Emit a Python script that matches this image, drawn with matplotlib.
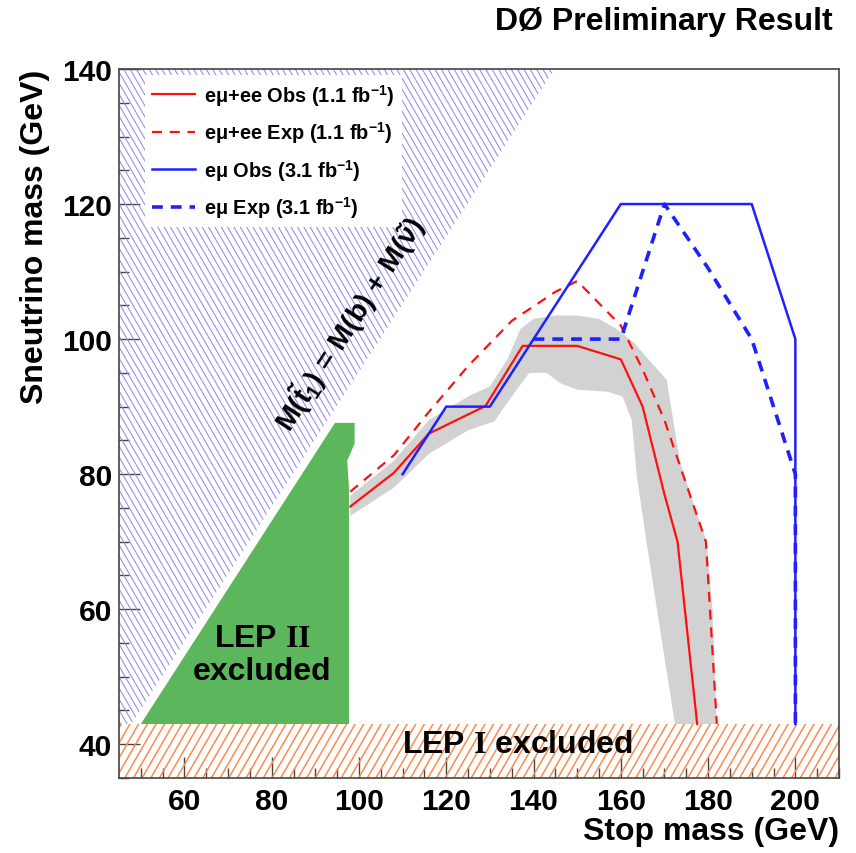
import matplotlib
matplotlib.use('Agg')
import matplotlib.pyplot as plt
import numpy as np
from matplotlib.patches import Polygon
from matplotlib.collections import LineCollection
from matplotlib.transforms import IdentityTransform
from matplotlib.lines import Line2D

plt.rcParams['font.family'] = ['Liberation Sans', 'DejaVu Sans']
plt.rcParams['font.weight'] = 'bold'
plt.rcParams['mathtext.fontset'] = 'custom'
plt.rcParams['mathtext.rm'] = 'Liberation Sans:bold'
plt.rcParams['mathtext.it'] = 'Liberation Sans:bold:italic'
plt.rcParams['mathtext.bf'] = 'Liberation Sans:bold'
plt.rcParams['mathtext.sf'] = 'Liberation Serif:bold'   # used for the roman numerals
plt.rcParams['mathtext.default'] = 'rm'

# ---- data (GeV) ----
# observed / expected limits
red_obs_x = [98, 108, 116, 129, 137.5, 150, 160, 165, 170, 173, 177.5]
red_obs_y = [75.2, 80.2, 86, 90.1, 99, 99, 97, 90, 77, 70, 43]
red_exp_x = [98, 108, 116, 125, 135, 145, 150, 160, 165, 170, 175, 179.5, 182]
red_exp_y = [77.4, 82.8, 89.2, 96, 102.7, 107, 108.6, 102, 95.5, 88, 78.5, 70, 43]
blue_obs_x = [110, 120, 130, 160, 190, 200, 200]
blue_obs_y = [80, 90, 90, 120, 120, 100, 43]
blue_exp_x = [140, 160, 170, 180, 190, 200, 200]
blue_exp_y = [100, 100, 120, 110.5, 100, 80, 43]

# +-1 sigma band around the e-mu+ee observed limit (polygon outline)
band_x = [98, 108, 116, 125, 130, 134, 137, 140, 145, 150, 155, 159, 163, 167, 170.5,
          173.5, 176.5, 179.7, 181, 182,
          172.4, 169, 166, 163.7, 162.5, 160.4, 157, 150, 146, 143, 139, 135, 131,
          125, 116, 108, 98]
band_y = [76.8, 82, 88, 91.5, 93, 97, 101.5, 103, 103.5, 103.5, 103, 101.5, 99.5, 96.5, 94,
          82, 76, 70, 60, 43,
          43, 57, 69.5, 79.5, 88, 91.5, 92.2, 92.5, 93.5, 95, 95, 91.5, 87.8,
          86.5, 83, 78, 73.8]

# LEP II excluded region
lep2_x = [50, 94.5, 99, 99, 97.3, 97.7, 97.7]
lep2_y = [43, 87.6, 87.6, 84.5, 82, 78, 43]
# LEP I excluded: sneutrino mass below this value
lep1_max = 43
# kinematic limit M(t1) = M(b) + M(nu)
mb = 4.8

xmin, xmax = 45, 210
ymin, ymax = 35, 140

fig = plt.figure(figsize=(8.56, 8.54), dpi=100)
ax = fig.add_axes([119/856, 1 - 779/854, 720/856, 709/854])
ax.set_xlim(xmin, xmax)
ax.set_ylim(ymin, ymax)


def hatch(ax, xs, ys, color, angle, step, lw):
    # diagonal line hatching drawn in pixel space, clipped to a data polygon
    clip = Polygon(np.column_stack([xs, ys]), closed=True, fc='none', ec='none',
                   transform=ax.transData)
    ax.add_patch(clip)
    x0, y0, x1, y1 = ax.bbox.extents
    a = np.deg2rad(angle)
    d = np.array([np.cos(a), np.sin(a)])
    n = np.array([-d[1], d[0]])
    c = np.array([(x0 + x1) / 2, (y0 + y1) / 2])
    r = np.hypot(x1 - x0, y1 - y0)
    segs = [[c + o * n - r * d, c + o * n + r * d] for o in np.arange(-r, r, step)]
    lc = LineCollection(segs, colors=color, linewidths=lw, transform=IdentityTransform())
    ax.add_collection(lc, autolim=False)
    lc.set_clip_path(clip)


# kinematically forbidden region (blue hatch)
kin_x = [xmin, lep1_max + mb, ymax + mb, xmin]
kin_y = [lep1_max, lep1_max, ymax, ymax]
hatch(ax, kin_x, kin_y, '#8c8cec', -60, 5.5, 0.75)

# LEP I (orange hatch)
hatch(ax, [xmin, xmax, xmax, xmin], [ymin, ymin, lep1_max, lep1_max], '#ff8a4c', 60, 7.5, 1.1)

# LEP II (green)
ax.add_patch(Polygon(np.column_stack([lep2_x, lep2_y]), closed=True,
                     fc='#5cb65c', ec='none', zorder=2))

# band
ax.add_patch(Polygon(np.column_stack([band_x, band_y]), closed=True,
                     fc='#d2d2d2', ec='none', zorder=2))

ax.plot(red_obs_x, red_obs_y, color='#ff1010', lw=1.6, zorder=4)
ax.plot(red_exp_x, red_exp_y, color='#ff1010', lw=1.6, ls=(0, (4.5, 3.5)), zorder=4)
ax.plot(blue_exp_x, blue_exp_y, color='#2020ff', lw=2.6, ls=(0, (3, 2.2)), zorder=4)
ax.plot(blue_obs_x, blue_obs_y, color='#2020ff', lw=1.8, zorder=5)

# texts
ax.text(97.8, 102.4, r'M($\tilde{t}_1$) = M(b) + M($\tilde{\nu}$)', rotation=57,
        rotation_mode='anchor', ha='center', va='center', fontsize=20.5, zorder=9)
ax.text(77.8, 55.7, r'LEP $\mathsf{II}$', ha='center', va='center', fontsize=23, zorder=6)
ax.text(77.8, 50.8, 'excluded', ha='center', va='center', fontsize=23, zorder=6)
ax.text(136.4, 40.1, r'LEP $\mathsf{I}$ excluded', ha='center', va='center', fontsize=23,
        zorder=6)

# legend
handles = [
    Line2D([], [], color='#ff1010', lw=1.6),
    Line2D([], [], color='#ff1010', lw=1.6, ls=(0, (4.5, 3.5))),
    Line2D([], [], color='#2020ff', lw=1.8),
    Line2D([], [], color='#2020ff', lw=2.6, ls=(0, (3, 2.2))),
]
labels = ['eμ+ee Obs (1.1 fb$^{-1}$)', 'eμ+ee Exp (1.1 fb$^{-1}$)',
          'eμ Obs (3.1 fb$^{-1}$)', 'eμ Exp (3.1 fb$^{-1}$)']
leg = ax.legend(handles, labels, loc='upper left', bbox_to_anchor=(0.036, 0.992),
                borderaxespad=0, fontsize=14.4, frameon=True, fancybox=False,
                framealpha=1, facecolor='white', edgecolor='none',
                handlelength=2.15, handletextpad=0.45, labelspacing=0.58, borderpad=0.35)
leg.set_zorder(7)

# axes styling
ax.set_xticks(np.arange(60, 201, 20))
ax.set_xticks(np.arange(50, 211, 5), minor=True)
ax.set_yticks(np.arange(40, 141, 20))
ax.set_yticks(np.arange(35, 141, 5), minor=True)
ax.tick_params(which='both', direction='in', top=False, right=False, labelsize=21.5, width=1,
               color='#444444')
ax.tick_params(which='major', length=15)
ax.tick_params(which='minor', length=7)
ax.tick_params(axis='x', pad=6.5)
ax.tick_params(axis='y', pad=5)
for s in ax.spines.values():
    s.set_color('#444444')
    s.set_linewidth(1.2)
    s.set_zorder(8)

ax.set_xlabel('Stop mass (GeV)', fontsize=23, fontweight='bold', ha='right', x=1.0,
              labelpad=1)
ax.set_ylabel('Sneutrino mass (GeV)', fontsize=23, fontweight='bold', ha='right', y=1.0,
              labelpad=9)
fig.text(833/856, 1 - 22/854, 'DØ Preliminary Result', ha='right', va='center', fontsize=23)

fig.savefig('out.png', dpi=100)
